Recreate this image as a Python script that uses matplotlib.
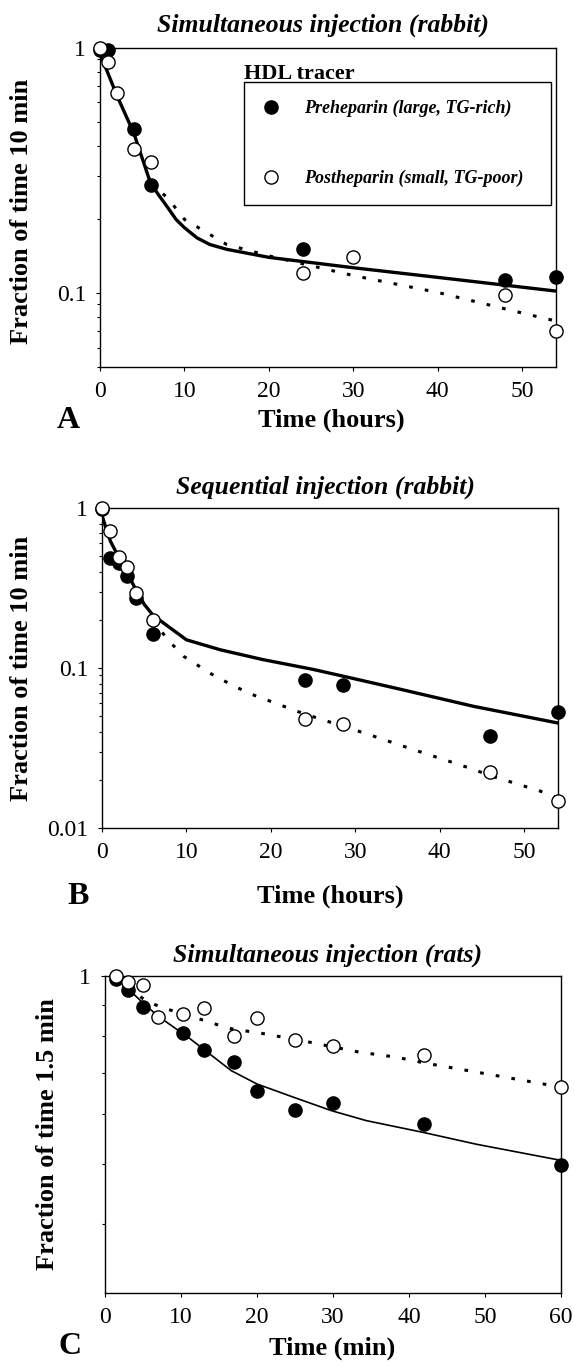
import numpy as np
import matplotlib
matplotlib.use("Agg")
import matplotlib.pyplot as plt
from matplotlib import ticker
from matplotlib.lines import Line2D

plt.rcParams['font.family'] = ['Liberation Serif', 'DejaVu Serif']

# ---- panel A: simultaneous injection (rabbit), time in hours
a_t_pre = [0, 1, 4, 6, 24, 48, 54]
a_pre = [0.98, 0.98, 0.467, 0.277, 0.152, 0.113, 0.116]
a_t_post = [0, 0.9, 2, 4, 6, 24, 30, 48, 54]
a_post = [1.0, 0.88, 0.653, 0.387, 0.343, 0.121, 0.141, 0.098, 0.070]
a_fit_t_pre = [0, 1, 2, 4, 6, 7, 8, 9, 10, 11.5, 13, 15, 20, 30, 40, 54]
a_fit_pre = [0.95, 0.78, 0.64, 0.45, 0.28, 0.25, 0.224, 0.2, 0.185, 0.168, 0.158, 0.151,
             0.14, 0.127, 0.116, 0.102]
a_fit_t_post = [6, 8, 10, 15, 20, 30, 40, 50, 54]
a_fit_post = [0.28, 0.245, 0.20, 0.158, 0.142, 0.118, 0.1007, 0.083, 0.077]

# ---- panel B: sequential injection (rabbit), time in hours
b_t_pre = [0, 1, 2, 3, 4, 6, 24, 28.5, 46, 54]
b_pre = [0.98, 0.487, 0.45, 0.374, 0.272, 0.162, 0.0845, 0.078, 0.0374, 0.0528]
b_t_post = [0, 1, 2, 3, 4, 6, 24, 28.5, 46, 54]
b_post = [1.0, 0.718, 0.496, 0.43, 0.296, 0.2, 0.048, 0.0449, 0.0223, 0.0147]
b_fit_t_pre = [0, 0.5, 1, 2, 3, 4, 5, 6, 7, 10, 14, 19, 25, 29.5, 35.5, 44, 54]
b_fit_pre = [0.9, 0.74, 0.62, 0.49, 0.39, 0.31, 0.25, 0.215, 0.196, 0.15, 0.13, 0.113,
             0.098, 0.0866, 0.0733, 0.0576, 0.0453]
b_fit_t_post = [6, 7.8, 9.7, 13.4, 17.3, 21.2, 23.8, 31.2, 36.8, 42.9, 46.3, 51.9, 54]
b_fit_post = [0.2, 0.15, 0.118, 0.0887, 0.0698, 0.0585, 0.052, 0.039, 0.031, 0.0243,
              0.021, 0.017, 0.0154]

# ---- panel C: simultaneous injection (rats), time in min
c_t_pre = [1.5, 3, 5, 10.3, 13, 17, 20, 25, 30, 42, 60]
c_pre = [0.99, 0.949, 0.892, 0.811, 0.761, 0.729, 0.655, 0.61, 0.625, 0.579, 0.497]
c_t_post = [1.5, 3, 5, 7, 10.3, 13, 17, 20, 25, 30, 42, 60]
c_post = [1.0, 0.979, 0.967, 0.86, 0.87, 0.89, 0.80, 0.857, 0.789, 0.771, 0.748, 0.663]
c_fit_t_pre = [1.5, 3, 5, 7, 11.2, 16.6, 20, 24.8, 29.8, 34.4, 41.9, 48.9, 60]
c_fit_pre = [1.0, 0.955, 0.905, 0.862, 0.793, 0.705, 0.671, 0.639, 0.608, 0.586, 0.561,
             0.537, 0.506]
c_fit_t_post = [1.5, 3, 5.5, 7.9, 12.2, 16.3, 20.9, 26.7, 33.4, 38.3, 42.1, 48.9, 57.1, 60]
c_fit_post = [1.0, 0.96, 0.91, 0.887, 0.855, 0.824, 0.808, 0.784, 0.755, 0.741, 0.725,
              0.701, 0.673, 0.663]

W, H = 574, 1370
fig = plt.figure(figsize=(W / 100, H / 100), dpi=100)


def rect(left, top, right, bottom):
    return [left / W, 1 - bottom / H, (right - left) / W, (bottom - top) / H]


def ftext(x, y, s, **kw):
    fig.text(x / W, 1 - y / H, s, ha=kw.pop('ha', 'center'), va=kw.pop('va', 'center'), **kw)


dots = (0, (1.2, 4))


def panel(box, t_pre, pre, t_post, post, ft_pre, fpre, ft_post, fpost,
          xlim, xticks, ylim, yticks, ylabels, lw_fit):
    ax = fig.add_axes(rect(*box))
    ax.plot(ft_pre, fpre, '-', color='black', lw=lw_fit, zorder=2)
    ax.plot(ft_post, fpost, linestyle=dots, color='black', lw=2.2, zorder=2)
    ax.plot(t_pre, pre, 'o', ms=9.5, mfc='black', mec='black', mew=1, zorder=3, clip_on=False)
    ax.plot(t_post, post, 'o', ms=9.5, mfc='white', mec='black', mew=1, zorder=4, clip_on=False)
    ax.set_yscale('log')
    ax.set_xlim(*xlim)
    ax.set_ylim(*ylim)
    ax.set_xticks(xticks)
    ax.set_xticklabels([str(v) for v in xticks])
    ax.set_yticks(yticks)
    ax.set_yticklabels(ylabels)
    ax.yaxis.set_minor_locator(ticker.LogLocator(base=10, subs=np.arange(2, 10)))
    ax.yaxis.set_minor_formatter(ticker.NullFormatter())
    ax.tick_params(which='both', direction='out', length=3, width=0.8, labelsize=17, pad=7)
    ax.tick_params(which='minor', length=2)
    for sp in ax.spines.values():
        sp.set_linewidth(1.0)
    return ax


axA = panel((100, 48, 556, 367), a_t_pre, a_pre, a_t_post, a_post,
            a_fit_t_pre, a_fit_pre, a_fit_t_post, a_fit_post,
            (0, 54), [0, 10, 20, 30, 40, 50], (0.05, 1), [0.1, 1], ['0.1', '1'], 2.4)

axB = panel((102, 508, 558, 828), b_t_pre, b_pre, b_t_post, b_post,
            b_fit_t_pre, b_fit_pre, b_fit_t_post, b_fit_post,
            (0, 54), [0, 10, 20, 30, 40, 50], (0.01, 1), [0.01, 0.1, 1], ['0.01', '0.1', '1'], 2.4)

axC = panel((105, 976, 561, 1293), c_t_pre, c_pre, c_t_post, c_post,
            c_fit_t_pre, c_fit_pre, c_fit_t_post, c_fit_post,
            (0, 60), [0, 10, 20, 30, 40, 50, 60], (0.31, 1), [1], ['1'], 1.2)

# legend in panel A
handles = [Line2D([], [], marker='o', ls='none', ms=9.5, mfc='black', mec='black'),
           Line2D([], [], marker='o', ls='none', ms=9.5, mfc='white', mec='black')]
leg = axA.legend(handles, ['Preheparin (large, TG-rich)', 'Postheparin (small, TG-poor)'],
                 loc='upper left', bbox_to_anchor=(244 / W, 1 - 82 / H, 307 / W, 0),
                 bbox_transform=fig.transFigure, mode='expand', borderaxespad=0,
                 prop={'family': ['Liberation Serif'], 'weight': 'bold', 'style': 'italic', 'size': 13},
                 labelspacing=2.9, borderpad=1.0, handlelength=1.0, handletextpad=1.3,
                 fancybox=False, edgecolor='black', framealpha=1)
leg.get_frame().set_linewidth(1.0)
ftext(244, 79, 'HDL tracer', ha='left', va='baseline', fontsize=16, fontweight='bold')

# titles, axis labels, panel letters
ttl = dict(fontsize=18.5, fontweight='bold', style='italic')
lab = dict(fontsize=19, fontweight='bold')
ftext(323, 25, 'Simultaneous injection (rabbit)', **ttl)
ftext(326, 487, 'Sequential injection (rabbit)', **ttl)
ftext(328, 955, 'Simultaneous injection (rats)', **ttl)

ftext(22, 211, 'Fraction of time 10 min', rotation=90, **lab)
ftext(22, 668, 'Fraction of time 10 min', rotation=90, **lab)
ftext(48, 1134, 'Fraction of time 1.5 min', rotation=90, **lab)

ftext(331, 420, 'Time (hours)', **lab)
ftext(330, 896, 'Time (hours)', **lab)
ftext(332, 1348, 'Time (min)', **lab)

ftext(68, 420, 'A', fontsize=23, fontweight='bold')
ftext(78, 896, 'B', fontsize=23, fontweight='bold')
ftext(70, 1347, 'C', fontsize=23, fontweight='bold')

fig.savefig('out.png', dpi=100)
